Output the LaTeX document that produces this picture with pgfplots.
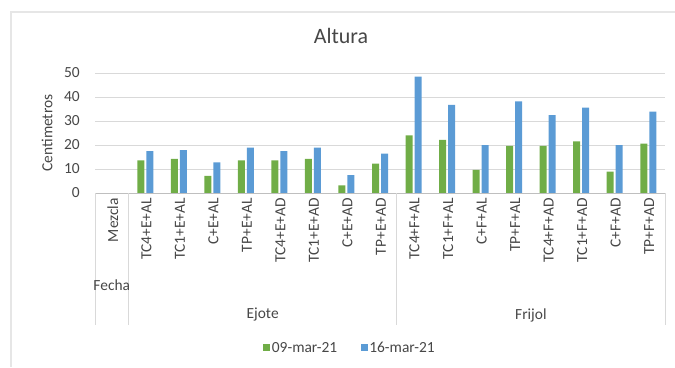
\documentclass[border=0pt]{standalone}
\usepackage{pgfplots}
\pgfplotsset{compat=1.18}
\usepackage{fontspec}
\setmainfont{Carlito}
\definecolor{serA}{HTML}{70AD47}
\definecolor{serB}{HTML}{5B9BD5}
\definecolor{txt}{HTML}{474747}
\definecolor{gridc}{HTML}{D9D9D9}
\definecolor{axc}{HTML}{BFBFBF}
\definecolor{framec}{HTML}{E6E6E6}
\begin{document}
\begin{tikzpicture}[x=1bp,y=1bp]
\path[use as bounding box] (0,0) rectangle (675,367);
% chart frame
\draw[framec, line width=1.2bp] (11,0) -- (11,355) -- (675,355);
\begin{axis}[
  at={(95bp,174bp)}, anchor=south west,
  scale only axis, width=570bp, height=120bp,
  clip=false,
  ymin=0, ymax=50, ytick={0,10,...,50},
  xmin=-0.5, xmax=16.5,
  xtick={0,...,16},
  xticklabels={Mezcla,TC4+E+AL,TC1+E+AL,C+E+AL,TP+E+AL,TC4+E+AD,TC1+E+AD,C+E+AD,TP+E+AD,
               TC4+F+AL,TC1+F+AL,C+F+AL,TP+F+AL,TC4+F+AD,TC1+F+AD,C+F+AD,TP+F+AD},
  ybar=2bp, bar width=7bp,
  axis line style={draw=none},
  tick style={draw=none},
  major tick length=0pt,
  ymajorgrids, grid style={gridc, line width=0.8bp},
  font=\fontsize{15.5}{18}\selectfont,
  /pgf/number format/assume math mode=true,
  tick label style={txt, font=\fontsize{15.5}{18}\selectfont},
  xticklabel style={rotate=90, anchor=east, inner sep=0pt, yshift=-1bp, xshift=-5bp},
  yticklabel style={anchor=east, inner sep=0pt, xshift=-15bp},
  title={Altura},
  title style={txt, font=\fontsize{22}{26}\selectfont, at={(axis description cs:0.4316,1.258)}, anchor=center},
  ylabel={Centimetros},
  every axis y label/.style={at={(axis description cs:-0.084,0.5)}, rotate=90, anchor=center, txt, font=\fontsize{15.5}{18}\selectfont},
  legend columns=2,
  legend style={at={(axis description cs:0.447,-1.29)}, anchor=center, draw=none, fill=none,
    font=\fontsize{15.5}{18}\selectfont, text=txt,
    /tikz/every even column/.append style={column sep=22bp},
    nodes={inner sep=1.5bp}},
  legend image code/.code={\fill[#1,draw=none] (0bp,-3.5bp) rectangle (7bp,3.5bp);},
]
\addplot[fill=serA, draw=none] coordinates {
  (1,13.6) (2,14.2) (3,7.1) (4,13.6) (5,13.6) (6,14.2) (7,3.2) (8,12.2)
  (9,24.0) (10,22.1) (11,9.6) (12,19.6) (13,19.6) (14,21.5) (15,8.9) (16,20.6)};
\addlegendentry{09-mar-21}
\addplot[fill=serB, draw=none] coordinates {
  (1,17.4) (2,17.9) (3,12.8) (4,18.9) (5,17.4) (6,18.9) (7,7.5) (8,16.4)
  (9,48.5) (10,36.7) (11,20.0) (12,38.2) (13,32.5) (14,35.6) (15,20.0) (16,33.9)};
\addlegendentry{16-mar-21}
% category axis and its group separators
\draw[axc, line width=0.8bp] (axis cs:-0.5,0) -- (axis cs:16.5,0);
\draw[gridc, line width=0.8bp] (axis cs:-0.5,0) -- ([yshift=-132bp]axis cs:-0.5,0);
\draw[gridc, line width=0.8bp] (axis cs:0.5,0) -- ([yshift=-132bp]axis cs:0.5,0);
\draw[gridc, line width=0.8bp] (axis cs:8.5,0) -- ([yshift=-132bp]axis cs:8.5,0);
\draw[gridc, line width=0.8bp] (axis cs:16.5,0) -- ([yshift=-132bp]axis cs:16.5,0);
\node[txt, font=\fontsize{15.5}{18}\selectfont] at ([yshift=-92bp]axis cs:0,0) {Fecha};
\node[txt, font=\fontsize{15.5}{18}\selectfont] at ([yshift=-122bp]axis cs:4.5,0) {Ejote};
\node[txt, font=\fontsize{15.5}{18}\selectfont] at ([yshift=-122bp]axis cs:12.5,0) {Frijol};
\end{axis}
\end{tikzpicture}
\end{document}
